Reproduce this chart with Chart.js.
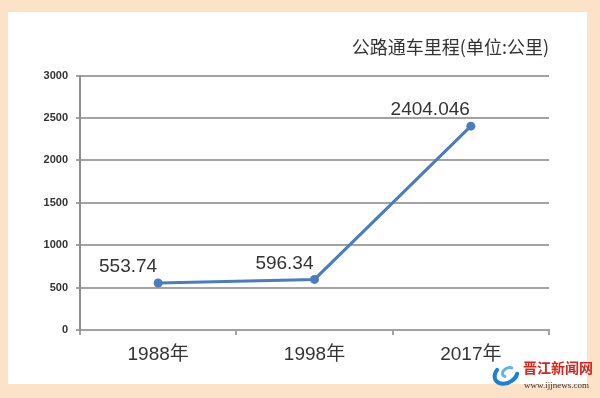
<!DOCTYPE html>
<html>
<head>
<meta charset="utf-8">
<script src="https://cdn.jsdelivr.net/npm/chart.js@4/dist/chart.umd.min.js"></script>
<style>
  html, body { margin: 0; padding: 0; background: #fce3c7; }
  #wrap { width: 600px; height: 398px; }
</style>
</head>
<body>
<div id="wrap"><canvas id="roadChart" width="600" height="398"></canvas></div>
<script>
// data
const years = ["1988年", "1998年", "2017年"]
const mileage = [553.74, 596.34, 2404.046]
const mileageLabels = ["553.74", "596.34", "2404.046"]
const yTicks = [0, 500, 1000, 1500, 2000, 2500, 3000]
const chartTitle = "公路通车里程(单位:公里)"

const lineBlue = '#4b7dbd'
const gridGray = '#a3a3a3'

// white card behind the chart + watermark
const panelPlugin = {
    id: 'panel',
    beforeDraw(chart) {
        const c = chart.ctx
        c.save()
        c.fillStyle = '#ffffff'
        c.fillRect(8, 12, 579, 372)
        c.restore()
    },
    afterDraw(chart) {
        const c = chart.ctx
        c.save()
        // swirl logo
        c.lineCap = 'round'
        c.strokeStyle = '#1f7fd0'
        c.lineWidth = 4
        c.beginPath()
        c.ellipse(506, 374, 12, 9, -0.5, 0.6, 4.2)
        c.stroke()
        c.strokeStyle = '#5fb3ea'
        c.lineWidth = 3
        c.beginPath()
        c.ellipse(508, 372, 6, 4, -0.5, 2.5, 5.8)
        c.stroke()
        c.fillStyle = '#d3261c'
        c.font = 'bold 14px "Noto Sans CJK SC"'
        c.textBaseline = 'alphabetic'
        c.textAlign = 'left'
        c.fillText('晋江新闻网', 523, 373)
        c.fillStyle = '#333'
        c.font = '9px "Liberation Serif"'
        c.fillText('www.ijjnews.com', 524, 388)
        c.restore()
    }
}

// value labels above-left of each point
const valueLabels = {
    id: 'valueLabels',
    afterDatasetsDraw(chart) {
        const c = chart.ctx
        const pts = chart.getDatasetMeta(0).data
        c.save()
        c.fillStyle = '#333333'
        c.font = '19px "Liberation Sans", Arial, sans-serif'
        c.textAlign = 'right'
        c.textBaseline = 'middle'
        pts.forEach((p, i) => {
            c.fillText(mileageLabels[i], p.x - 1, p.y - 16)
        })
        c.restore()
    }
}

const ctx = document.getElementById('roadChart').getContext('2d')

const data = {
    labels: years,
    datasets: [{
        data: mileage,
        borderColor: lineBlue,
        backgroundColor: lineBlue,
        borderWidth: 3,
        pointRadius: 4.5,
        pointBackgroundColor: lineBlue,
        pointBorderWidth: 0,
        tension: 0,
        fill: false
    }]
}

const config = {
    type: 'line',
    data: data,
    options: {
        responsive: false,
        animation: false,
        layout: { padding: { top: 10, right: 51, left: 0, bottom: 0 } },
        plugins: {
            legend: { display: false },
            tooltip: { enabled: false },
            title: {
                display: true,
                text: chartTitle,
                align: 'end',
                color: '#333333',
                font: { family: '"Noto Sans CJK SC", sans-serif', size: 18, weight: 'normal', lineHeight: 1.2 },
                padding: { top: 26, bottom: 18 }
            }
        },
        scales: {
            x: {
                offset: true,
                grid: {
                    offset: true,
                    drawOnChartArea: false,
                    drawTicks: true,
                    tickLength: 5,
                    color: gridGray,
                    lineWidth: 2
                },
                border: { display: true, color: gridGray, width: 2 },
                ticks: {
                    color: '#333333',
                    padding: 8,
                    font: { family: '"Liberation Sans", "Noto Sans CJK SC", sans-serif', size: 19 }
                },
                afterFit(scale) { scale.height = 68 }
            },
            y: {
                min: 0,
                max: 3000,
                afterBuildTicks(scale) { scale.ticks = yTicks.map(v => ({ value: v })) },
                grid: {
                    color: gridGray,
                    lineWidth: 2,
                    tickLength: 4
                },
                border: { display: true, color: '#8f8f8f', width: 2 },
                ticks: {
                    color: '#333333',
                    padding: 8,
                    callback: v => String(v),
                    font: { family: '"Liberation Sans", Arial, sans-serif', size: 11, weight: 'bold' }
                },
                afterFit(scale) { scale.width = 80 }
            }
        }
    },
    plugins: [panelPlugin, valueLabels]
}

const result = new Chart(ctx, config)
</script>
</body>
</html>
